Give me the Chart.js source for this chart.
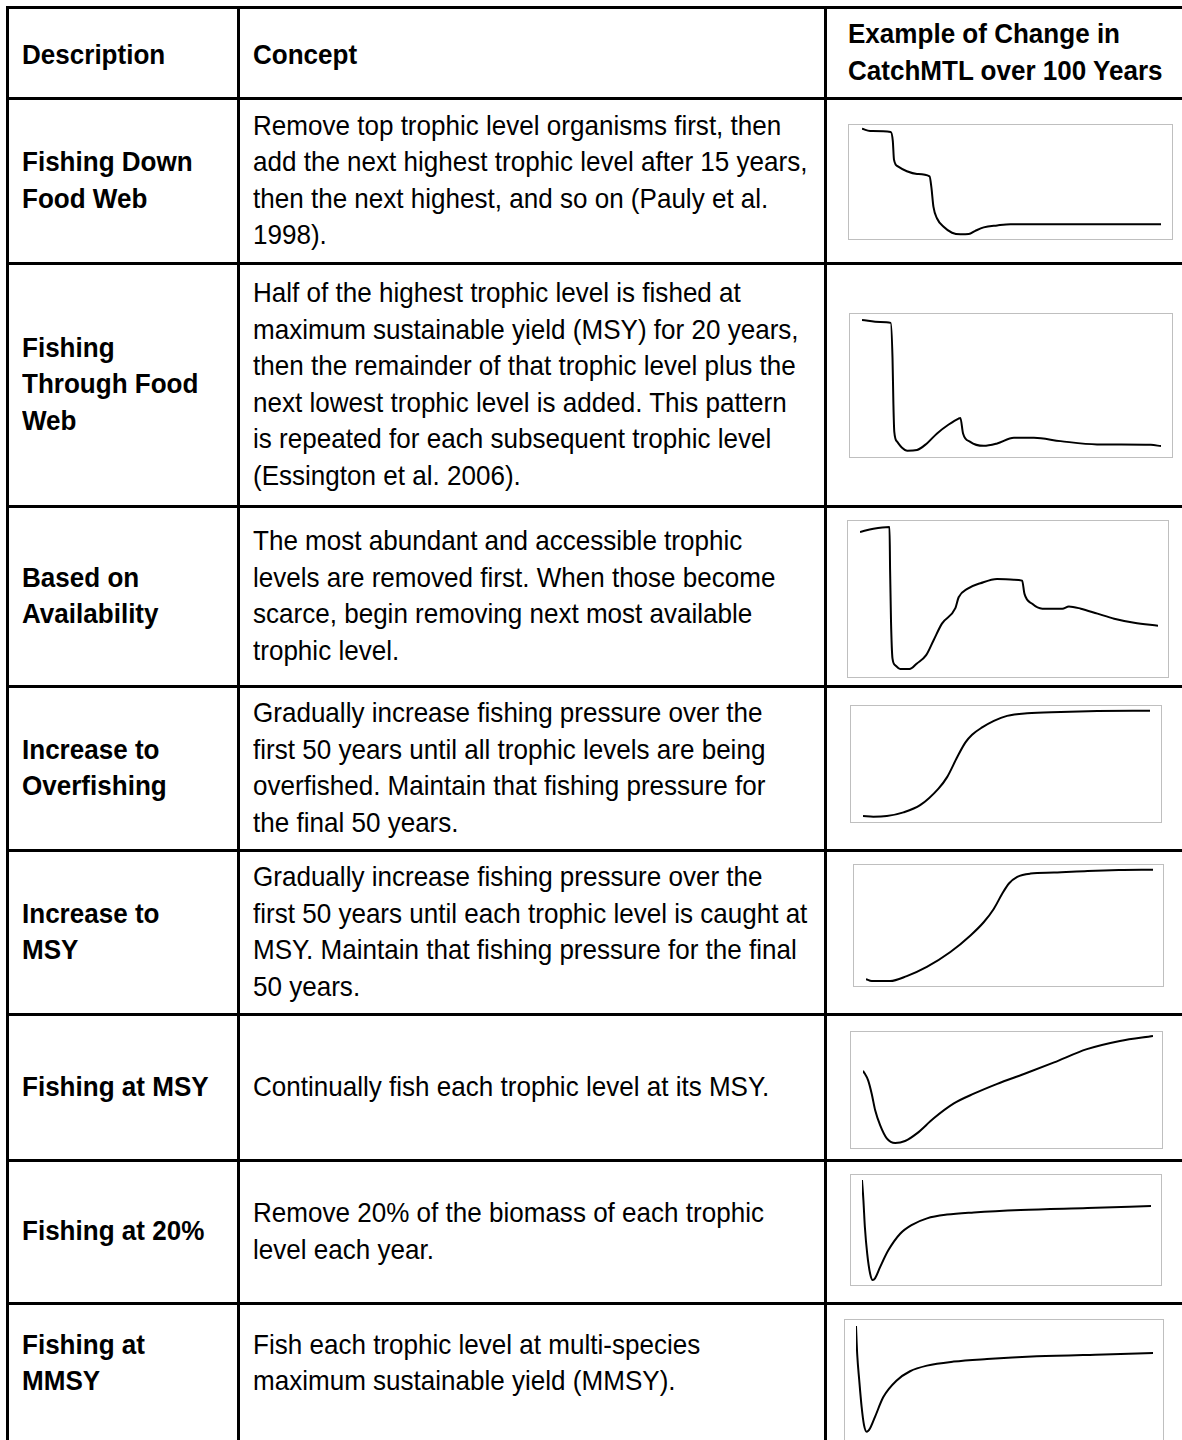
<!DOCTYPE html>
<html lang="en">
<head>
<meta charset="UTF-8">
<title>Fishing scenarios and CatchMTL</title>
<style>
    body {
        margin: 0;
        width: 1182px;
        height: 1440px;
        overflow: hidden;
        background: #ffffff;
        font-family: "Liberation Sans", Arial, sans-serif;
        color: #000;
        position: relative;
    }
    .hline, .vline {
        position: absolute;
        background: #000;
    }
    .hline { left: 6px; width: 1200px; height: 3px; }
    .vline { top: 6px; width: 3px; height: 1450px; }
    .cell {
        position: absolute;
        display: flex;
        align-items: center;
    }
    .cell > div {
        white-space: pre;
        font-size: 28px;
        line-height: 36.5px;
        transform: scaleX(0.93);
        transform-origin: left center;
    }
    .bold > div { font-weight: bold; }
    .frame {
        position: absolute;
        border: 1px solid #bfbfbf;
        box-sizing: border-box;
    }
</style>
</head>
<body>

<div id="table"></div>

<script src="https://cdn.jsdelivr.net/npm/chart.js"></script>
<script>
    // years (0-100) and CatchMTL, as % of each panel's height
    const downYears = [0, 2.7, 9.6, 10.3, 10.7, 12, 15, 18.4, 22.6, 23.2, 23.9, 25.1, 27.3, 30.1, 32.9, 35.7, 37.9, 40.7, 45.2, 49.7, 60, 80, 100];
    const downMTL = [96.8, 94.8, 93.9, 86.1, 69.6, 63.7, 59.4, 57.1, 55, 45.5, 28.1, 18, 10.7, 5.5, 4.1, 4.3, 7.2, 10.2, 11.9, 13, 13, 13, 13];

    const throughYears = [0, 6.1, 9.6, 10.2, 10.5, 10.8, 11.8, 13.3, 15.2, 18.4, 21.7, 25.1, 29, 32.3, 32.9, 33.8, 36.2, 40.7, 45.2, 50.8, 57.5, 66.4, 78.6, 96.6, 100];
    const throughMTL = [95.8, 94.4, 93.8, 69.7, 37.3, 17.6, 10.6, 6.7, 4.4, 4.9, 9.5, 16.5, 22.7, 26.9, 27.3, 16.5, 10.6, 7.8, 9.5, 13.4, 13.4, 11.1, 8.8, 8.5, 7.6];

    const availYears = [0, 4.5, 9.9, 10.1, 10.4, 10.9, 11.8, 13.5, 16.6, 19.1, 22.2, 24.7, 27.5, 32, 33.1, 36, 40.4, 46, 51.6, 54.4, 55.2, 57.8, 61.2, 67.9, 70.1, 74.1, 79.7, 85.3, 92, 100];
    const availMTL = [93, 95.1, 96.2, 68.2, 36.3, 11.9, 7.6, 5.1, 5.1, 8.7, 14, 23.6, 34.2, 44.1, 51.1, 56.5, 60.1, 62.9, 62.4, 61.8, 53.3, 46.9, 43.8, 43.8, 45.2, 43.8, 40.6, 37.4, 34.8, 32.9];

    const overYears = [0, 3.6, 8.3, 14.1, 19.9, 26.3, 29.3, 32.8, 35.7, 38, 41.5, 45.6, 50.2, 57.2, 68.9, 81.7, 100];
    const overMTL = [5.1, 4.5, 5.1, 8.3, 14.5, 28.8, 38.7, 55.8, 68.6, 75.2, 81.5, 87.2, 91.5, 93.8, 94.9, 95.7, 96];

    const toMsyYears = [0, 2, 8.4, 14.2, 21.2, 29.4, 36.4, 41, 44.5, 47.4, 49.8, 52.7, 57.3, 65.5, 77.2, 88.1, 100];
    const toMsyMTL = [5.7, 4.1, 4.1, 8.2, 15.8, 28.1, 41.8, 52.7, 63.7, 76, 84.7, 90.2, 92.9, 93.7, 95.1, 95.9, 96.1];

    const msyYears = [0, 1.8, 3, 4.2, 5.9, 8.2, 11.1, 14.5, 18.6, 24.3, 31.2, 38.2, 46.3, 55.5, 65.9, 77.2, 88.6, 100];
    const msyMTL = [66.7, 58.1, 46.8, 32.5, 19.7, 8.3, 4.3, 6, 12.6, 25.4, 38.2, 46.8, 55.3, 63.8, 73.8, 85.2, 92.3, 96.6];

    const pct20Years = [0, 0.5, 1, 1.8, 2.8, 3.7, 4.5, 6.3, 9.1, 13.2, 17.3, 22.5, 29.4, 38.7, 54.9, 78, 100];
    const pct20MTL = [95.5, 76.6, 52.5, 28.6, 10.5, 4.5, 6, 16.5, 31.5, 46.6, 54.7, 60.6, 64, 66, 68.2, 70, 71.8];

    const mmsyYears = [0, 0.4, 1.1, 1.9, 2.7, 3.6, 4.7, 6.4, 9.2, 13.7, 18.2, 23.9, 32.9, 44.1, 60.9, 83.5, 100];
    const mmsyMTL = [95.1, 72.1, 50.4, 28.7, 13.8, 8.4, 11.1, 20.6, 36.8, 50.4, 58, 62.6, 65.9, 68, 70.2, 71.8, 72.9];

    // table text
    const headers = ['Description', 'Concept', 'Example of Change in\nCatchMTL over 100 Years'];
    const descriptions = [
        'Fishing Down\nFood Web',
        'Fishing\nThrough Food\nWeb',
        'Based on\nAvailability',
        'Increase to\nOverfishing',
        'Increase to\nMSY',
        'Fishing at MSY',
        'Fishing at 20%',
        'Fishing at\nMMSY'
    ];
    const concepts = [
        'Remove top trophic level organisms first, then\nadd the next highest trophic level after 15 years,\nthen the next highest, and so on (Pauly et al.\n1998).',
        'Half of the highest trophic level is fished at\nmaximum sustainable yield (MSY) for 20 years,\nthen the remainder of that trophic level plus the\nnext lowest trophic level is added. This pattern\nis repeated for each subsequent trophic level\n(Essington et al. 2006).',
        'The most abundant and accessible trophic\nlevels are removed first. When those become\nscarce, begin removing next most available\ntrophic level.',
        'Gradually increase fishing pressure over the\nfirst 50 years until all trophic levels are being\noverfished. Maintain that fishing pressure for\nthe final 50 years.',
        'Gradually increase fishing pressure over the\nfirst 50 years until each trophic level is caught at\nMSY. Maintain that fishing pressure for the final\n50 years.',
        'Continually fish each trophic level at its MSY.',
        'Remove 20% of the biomass of each trophic\nlevel each year.',
        'Fish each trophic level at multi-species\nmaximum sustainable yield (MMSY).'
    ];
    const series = [
        [downYears, downMTL], [throughYears, throughMTL], [availYears, availMTL], [overYears, overMTL],
        [toMsyYears, toMsyMTL], [msyYears, msyMTL], [pct20Years, pct20MTL], [mmsyYears, mmsyMTL]
    ];

    // layout
    const rowLines = [7, 98, 263, 506, 686, 850, 1014, 1160, 1303, 1423];
    const colLines = [7, 238, 825];
    const textLeft = [22, 253, 848];
    // panel frames: left, top, width, height, inset of year 0 and year 100
    const frames = [
        [848, 124, 325, 116, 13, 11],
        [849, 313, 324, 145, 12, 11],
        [847, 520, 322, 158, 12, 10],
        [850, 705, 312, 118, 12, 11],
        [853, 864, 311, 123, 12, 10],
        [850, 1031, 313, 118, 12, 9],
        [850, 1174, 312, 112, 11, 10],
        [844, 1319, 320, 124, 11, 10]
    ];

    const table = document.getElementById('table');

    rowLines.slice(0, 9).forEach(y => {
        const d = document.createElement('div');
        d.className = 'hline';
        d.style.top = (y - 1) + 'px';
        table.appendChild(d);
    });
    colLines.forEach(x => {
        const d = document.createElement('div');
        d.className = 'vline';
        d.style.left = (x - 1) + 'px';
        table.appendChild(d);
    });

    function addText(text, row, col, bold, shift) {
        const c = document.createElement('div');
        c.className = 'cell' + (bold ? ' bold' : '');
        c.style.left = textLeft[col] + 'px';
        c.style.top = (rowLines[row] + (shift || 0)) + 'px';
        c.style.height = (rowLines[row + 1] - rowLines[row]) + 'px';
        const t = document.createElement('div');
        t.textContent = text;
        c.appendChild(t);
        table.appendChild(c);
    }

    headers.forEach((h, i) => addText(h, 0, i, true, i < 2 ? 3 : 0));
    descriptions.forEach((d, i) => addText(d, i + 1, 0, true));
    concepts.forEach((d, i) => addText(d, i + 1, 1, false));

    series.forEach(([years, mtl], i) => {
        const [left, top, w, h, padL, padR] = frames[i];
        const frame = document.createElement('div');
        frame.className = 'frame';
        frame.style.left = left + 'px';
        frame.style.top = top + 'px';
        frame.style.width = w + 'px';
        frame.style.height = h + 'px';
        const canvas = document.createElement('canvas');
        frame.appendChild(canvas);
        table.appendChild(frame);

        new Chart(canvas.getContext('2d'), {
            type: 'line',
            data: {
                datasets: [{
                    data: years.map((x, j) => ({ x: x, y: mtl[j] })),
                    borderColor: '#000000',
                    borderWidth: 2,
                    pointRadius: 0,
                    fill: false,
                    cubicInterpolationMode: 'monotone'
                }]
            },
            options: {
                responsive: true,
                maintainAspectRatio: false,
                animation: false,
                events: [],
                plugins: {
                    legend: { display: false },
                    tooltip: { enabled: false }
                },
                layout: {
                    padding: { left: padL, right: padR, top: 0, bottom: 0 }
                },
                scales: {
                    x: { type: 'linear', min: 0, max: 100, display: false },
                    y: { min: 0, max: 100, display: false }
                }
            }
        });
    });
</script>

</body>
</html>
